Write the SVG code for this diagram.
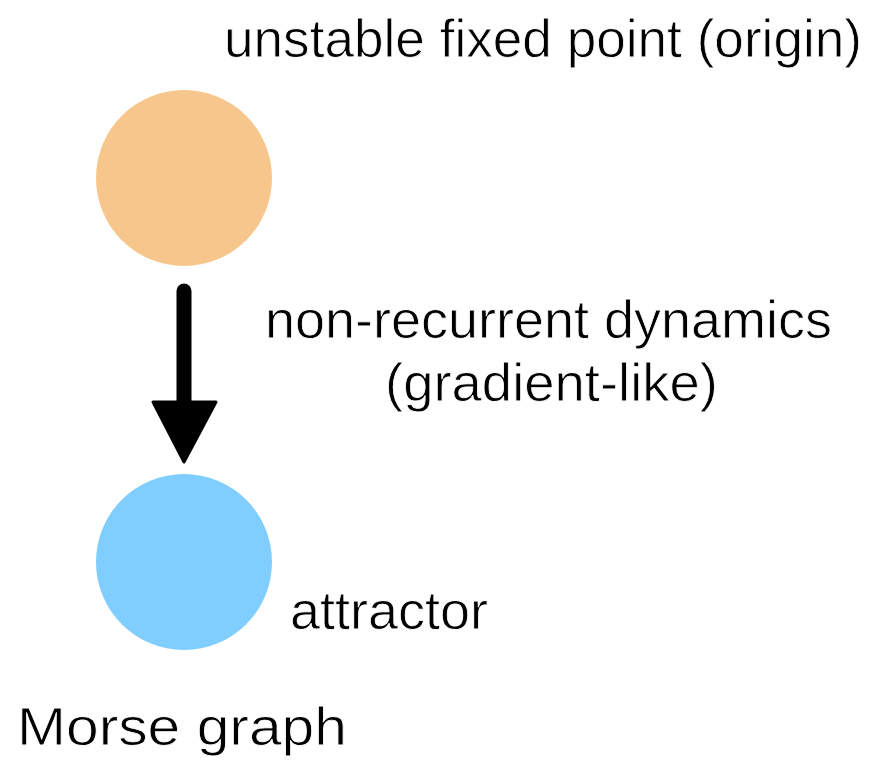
<svg xmlns="http://www.w3.org/2000/svg" width="883" height="760" viewBox="0 0 883 760">
  <style>
    /* thin the glyphs slightly with a white outline drawn over the fill */
    .lbl { font-family: "Liberation Sans", Arial, sans-serif; fill: #000; font-size: 53px; stroke: #fff; stroke-width: 0.8px; }
    .title { font-size: 54px; }
  </style>
  <rect width="883" height="760" fill="#fff"/>
  <g id="origin">
    <circle cx="184" cy="178" r="88" fill="#f7c68c"/>
    <text class="lbl" x="224" y="57" textLength="638" lengthAdjust="spacingAndGlyphs">unstable fixed point (origin)</text>
  </g>
  <g id="attractor">
    <circle cx="184" cy="562" r="88" fill="#80cdff"/>
    <text class="lbl" x="290" y="629" textLength="198" lengthAdjust="spacingAndGlyphs">attractor</text>
  </g>
  <g id="connectors">
    <line x1="184" y1="291" x2="184" y2="405" stroke="#000" stroke-width="15" stroke-linecap="round"/>
    <path d="M153 402 L216 402 L184 462 Z" fill="#000" stroke="#000" stroke-width="3" stroke-linejoin="round"/>
    <text class="lbl" x="265" y="338" textLength="567" lengthAdjust="spacingAndGlyphs">non-recurrent dynamics</text>
    <text class="lbl" x="385" y="401" textLength="333" lengthAdjust="spacingAndGlyphs">(gradient-like)</text>
  </g>
  <text class="lbl title" x="17" y="745" textLength="330" lengthAdjust="spacingAndGlyphs">Morse graph</text>
</svg>
